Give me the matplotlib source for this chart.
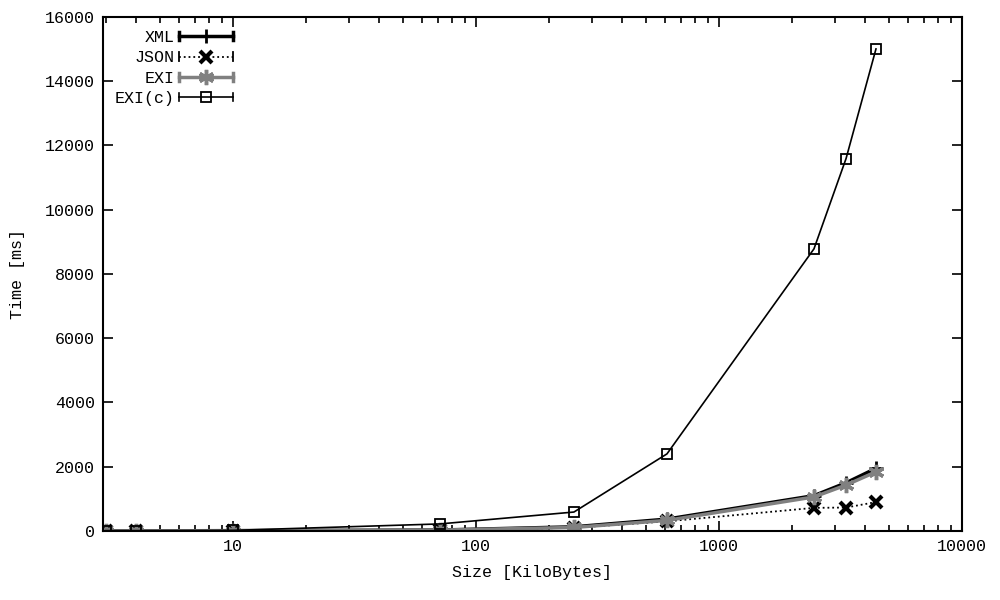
import matplotlib
matplotlib.use('Agg')
import matplotlib.pyplot as plt
from matplotlib.lines import Line2D
from matplotlib.legend_handler import HandlerLine2D

size_kb = [3, 4, 10, 71, 253, 611, 2460, 3334, 4426]
xml_ms = [5, 5, 10, 30, 130, 370, 1100, 1500, 1950]
json_ms = [5, 5, 8, 25, 100, 300, 720, 730, 900]
exi_ms = [5, 5, 10, 28, 110, 330, 1060, 1430, 1840]
exic_ms = [10, 10, 20, 220, 590, 2400, 8780, 11590, 15000]

plt.rcParams['font.family'] = ['Liberation Mono', 'DejaVu Sans Mono']
plt.rcParams['font.size'] = 12


class CapHandler(HandlerLine2D):
    # gnuplot style key: line with small end caps
    def create_artists(self, legend, orig_handle, xdescent, ydescent,
                       width, height, fontsize, trans):
        arts = super().create_artists(legend, orig_handle, xdescent, ydescent,
                                      width, height, fontsize, trans)
        y = height / 2 - ydescent
        for x in (-xdescent, -xdescent + width):
            arts.append(Line2D([x, x], [y - height * 0.35, y + height * 0.35],
                               color=orig_handle.get_color(),
                               lw=max(orig_handle.get_linewidth(), 1.2),
                               transform=trans))
        return arts


fig = plt.figure(figsize=(10, 6), dpi=100)
ax = fig.add_axes([0.103, 0.115, 0.859, 0.857])

l1, = ax.plot(size_kb, xml_ms, color='black', lw=2.5, marker='+',
              ms=10, mew=2, label='XML')
l2, = ax.plot(size_kb, json_ms, color='black', lw=1.3, ls=':', marker='x',
              ms=9, mew=3, label='JSON')
l3, = ax.plot(size_kb, exi_ms, color='#808080', lw=2.5, marker=(6, 2, 0),
              ms=11, mew=2.5, label='EXI')
l4, = ax.plot(size_kb, exic_ms, color='black', lw=1.2, marker='s',
              ms=7, mfc='none', mew=1.3, label='EXI(c)')

ax.set_xscale('log')
ax.set_xlim(2.92, 10000)
ax.set_ylim(0, 16000)
ax.set_yticks(range(0, 16001, 2000))
ax.xaxis.set_major_formatter(matplotlib.ticker.FuncFormatter(lambda v, p: '%d' % v))
ax.tick_params(which='both', direction='in', top=True, right=True, width=1.2)
ax.tick_params(which='major', length=7, pad=6)
ax.tick_params(which='minor', length=4)
for s in ax.spines.values():
    s.set_linewidth(1.5)

ax.set_xlabel('Size [KiloBytes]', labelpad=8)
ax.set_ylabel('Time [ms]', labelpad=14)

ax.legend(handles=[l1, l2, l3, l4], loc='upper left', frameon=False,
          markerfirst=False, handlelength=3.2, handletextpad=0.25,
          labelspacing=0.32, borderpad=0, borderaxespad=0,
          bbox_to_anchor=(0.115, 1 - 30 / 600), bbox_transform=fig.transFigure,
          handler_map={Line2D: CapHandler()})

fig.savefig('out.png', dpi=100)
